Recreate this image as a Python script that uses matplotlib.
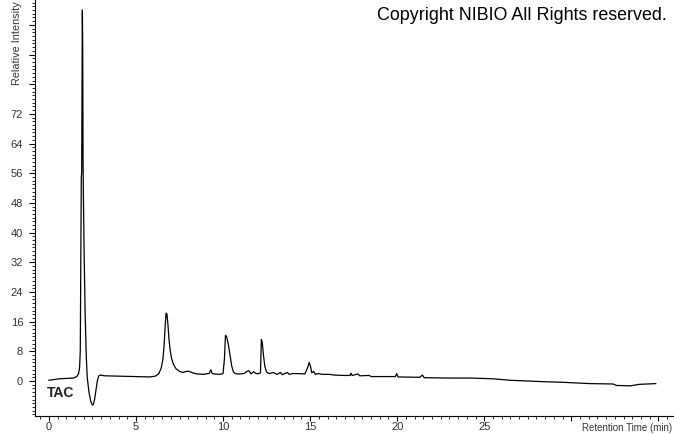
import matplotlib
matplotlib.use('Agg')
import matplotlib.pyplot as plt
from matplotlib.ticker import MultipleLocator, FixedLocator

# retention time (min) and relative intensity
time = [0.0, 0.3, 0.6, 1.0, 1.4, 1.6, 1.7, 1.76, 1.8, 1.83,
        1.86, 1.88, 1.9, 1.92, 1.94, 1.96, 1.98, 2.02, 2.08, 2.15,
        2.2, 2.3, 2.4, 2.5, 2.55, 2.62, 2.7, 2.78, 2.85, 2.95,
        3.2, 4.0, 5.0, 5.8, 6.1, 6.3, 6.45, 6.55, 6.62, 6.68,
        6.73, 6.78, 6.83, 6.9, 6.97, 7.05, 7.15, 7.3, 7.5, 7.7,
        7.9, 8.05, 8.25, 8.5, 8.9, 9.1, 9.2, 9.3, 9.38, 9.5,
        9.8, 10.0, 10.08, 10.14, 10.2, 10.3, 10.4, 10.5, 10.6, 10.7,
        10.9, 11.2, 11.45, 11.52, 11.6, 11.75, 11.9, 12.05, 12.15, 12.2,
        12.25, 12.32, 12.4, 12.5, 12.65, 12.9, 13.0, 13.1, 13.3, 13.4,
        13.55, 13.7, 13.8, 14.0, 14.3, 14.7, 14.85, 14.95, 15.02, 15.1,
        15.2, 15.3, 15.45, 15.7, 16.1, 16.4, 16.9, 17.3, 17.35, 17.42,
        17.75, 17.85, 18.4, 18.5, 19.0, 19.9, 19.97, 20.05, 21.3, 21.45,
        21.55, 23.0, 24.2, 25.5, 26.5, 27.5, 28.5, 29.3, 30.2, 31.1,
        32.4, 32.6, 33.4, 33.9, 34.85]
intensity = [0.2, 0.4, 0.6, 0.7, 0.8, 1.2, 2.0, 3.5, 8, 30,
             55, 56, 80, 100, 90, 60, 50, 35, 18, 6,
             1, -3, -5.5, -6.5, -6.3, -5, -2.5, 0, 1.3, 1.6,
             1.4, 1.3, 1.2, 1.1, 1.3, 1.9, 3.5, 6, 10, 15,
             18.3, 18.0, 15.5, 11, 8, 6, 4.5, 3.3, 2.6, 2.3,
             2.6, 2.6, 2.2, 1.9, 1.8, 2.0, 2.0, 3.0, 2.0, 1.9,
             1.8, 2.0, 6, 12.3, 12.0, 10, 7, 4, 2.4, 2.0,
             1.9, 2.0, 2.8, 2.6, 1.9, 2.5, 2.0, 2.0, 2.2, 11.2,
             10.5, 7, 4, 2.4, 2.0, 2.3, 2.0, 1.8, 2.3, 1.7,
             2.0, 2.3, 1.8, 2.0, 2.0, 1.9, 3.5, 5.0, 4.0, 2.2,
             2.6, 1.8, 2.0, 1.8, 1.8, 1.6, 1.5, 1.5, 2.1, 1.5,
             1.9, 1.4, 1.5, 1.2, 1.2, 1.2, 2.0, 1.1, 1.0, 1.6,
             0.9, 0.8, 0.8, 0.6, 0.2, 0.0, -0.2, -0.3, -0.5, -0.7,
             -0.8, -1.2, -1.3, -0.9, -0.7]

x_ticks = [0, 5, 10, 15, 20, 25, 30, 35]
x_labels = ['0', '5', '10', '15', '20', '25', '', '']
y_ticks = [0, 8, 16, 24, 32, 40, 48, 56, 64, 72, 80, 88, 96]
y_labels = ['0', '8', '16', '24', '32', '40', '48', '56', '64', '72', '', '', '']

plt.rcParams['font.family'] = ['Liberation Sans', 'DejaVu Sans']

fig = plt.figure(figsize=(6.74, 4.34), dpi=100)
ax = fig.add_axes([35 / 674, 18 / 434, 639 / 674, 416 / 434])
ax.plot(time, intensity, color='black', lw=0.9)

ax.set_xlim(-0.8, 35.9)
ax.set_ylim(-9.43, 102.7)
for s in ['top', 'right']:
    ax.spines[s].set_visible(False)
for s in ['left', 'bottom']:
    ax.spines[s].set_linewidth(0.8)

ax.xaxis.set_major_locator(FixedLocator(x_ticks))
ax.set_xticklabels(x_labels)
ax.xaxis.set_minor_locator(MultipleLocator(0.5))
ax.yaxis.set_major_locator(FixedLocator(y_ticks))
ax.set_yticklabels(y_labels)
ax.yaxis.set_minor_locator(MultipleLocator(1))
ax.tick_params(which='major', width=0.8, labelsize=8, labelcolor='#333333')
ax.tick_params(axis='x', which='major', length=3.5, pad=0.5)
ax.tick_params(axis='y', which='major', length=4.5, pad=4)
ax.tick_params(which='minor', length=2, width=0.6)

fig.text(17 / 674, 1 - 1 / 434, 'Relative Intensity', rotation=90,
         ha='center', va='top', fontsize=7.8, color='#333333')
fig.text(667 / 674, 1 - 15 / 434, 'Copyright NIBIO All Rights reserved.',
         ha='right', va='center', fontsize=12.9, color='black')
fig.text(47 / 674, 1 - 393 / 434, 'TAC', ha='left', va='center',
         fontsize=10, fontweight='bold', color='#222222')
fig.text(672 / 674, 1 - 428 / 434, 'Retention Time (min)', ha='right',
         va='center', fontsize=7, color='#333333')

fig.savefig('out.png', dpi=100)
